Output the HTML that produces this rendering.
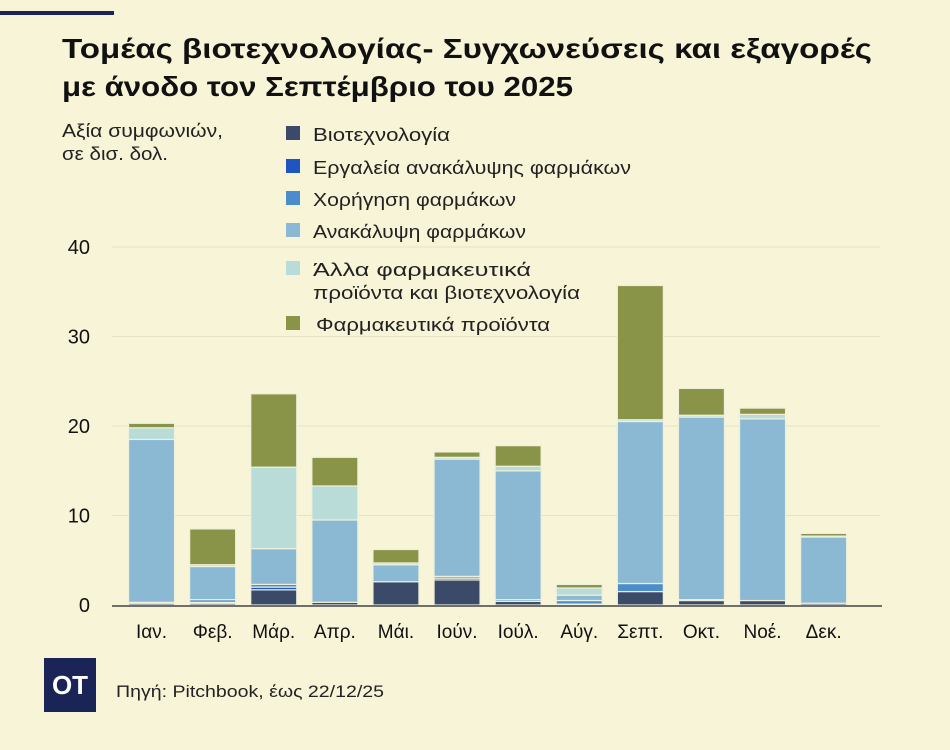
<!DOCTYPE html>
<html><head><meta charset="utf-8"><style>
body{margin:0;background:#f7f4d7;font-family:"Liberation Sans",sans-serif}
svg{display:block}
</style></head><body>
<svg width="950" height="750" id="c">
<rect width="950" height="750" fill="#f7f4d7"/>
<rect x="0" y="11" width="114" height="4" fill="#1b2457"/>
<text x="62" y="58" font-size="28" font-weight="bold" fill="#111" textLength="810" lengthAdjust="spacingAndGlyphs">Τομέας βιοτεχνολογίας- Συγχωνεύσεις και εξαγορές</text>
<text x="62" y="96" font-size="28" font-weight="bold" fill="#111" textLength="511" lengthAdjust="spacingAndGlyphs">με άνοδο τον Σεπτέμβριο του 2025</text>
<text x="62" y="137" font-size="18" fill="#222" textLength="161" lengthAdjust="spacingAndGlyphs">Αξία συμφωνιών,</text>
<text x="62" y="160" font-size="18" fill="#222" textLength="106" lengthAdjust="spacingAndGlyphs">σε δισ. δολ.</text>
<g id="grid"></g><g id="bars"></g><g id="legend"></g>
<rect x="44" y="658" width="52" height="54" fill="#1b2457"/>
<text x="70" y="694" font-size="26" font-weight="bold" fill="#fff" text-anchor="middle">OT</text>
<text x="116" y="697" font-size="17" fill="#222" textLength="268" lengthAdjust="spacingAndGlyphs">Πηγή: Pitchbook, έως 22/12/25</text>
</svg>
<script>
const categories=["Ιαν.","Φεβ.","Μάρ.","Απρ.","Μάι.","Ιούν.","Ιούλ.","Αύγ.","Σεπτ.","Οκτ.","Νοέ.","Δεκ."];
const seriesNames=["Βιοτεχνολογία","Εργαλεία ανακάλυψης φαρμάκων","Χορήγηση φαρμάκων","Ανακάλυψη φαρμάκων","Άλλα φαρμακευτικά προϊόντα και βιοτεχνολογία","Φαρμακευτικά προϊόντα"];
const biotech=[0.2,0.2,1.7,0.3,2.6,2.8,0.4,0.1,1.5,0.5,0.5,0.2];
const tools=[0,0.1,0.3,0,0,0.2,0,0,0,0.1,0,0];
const delivery=[0.1,0.3,0.3,0,0,0.2,0.2,0.4,0.9,0,0,0];
const discovery=[18.2,3.7,4.0,9.2,1.9,13.1,14.4,0.6,18.1,20.4,20.3,7.4];
const otherPharma=[1.3,0.2,9.1,3.8,0.2,0.2,0.5,0.8,0.2,0.2,0.5,0.1];
const pharma=[0.5,4.0,8.2,3.2,1.5,0.6,2.3,0.4,15.0,3.0,0.7,0.3];
const yTicks=[0,10,20,30,40];
const series=[biotech,tools,delivery,discovery,otherPharma,pharma];
const colors=["#3b4a69","#1f55c0","#4a8ccc","#8bb9d4","#b9dcd8","#8a9448"];
const NS="http://www.w3.org/2000/svg";
const y0=605,y40=247,x0=121,step=61.1,bw=46;
const Y=v=>y0-(v/40)*(y0-y40);
const X=i=>x0+step*(i+0.5);
function mk(t,a,p){const e=document.createElementNS(NS,t);for(const k in a)e.setAttribute(k,a[k]);p.appendChild(e);return e;}
const g=document.getElementById('grid');
yTicks.forEach(t=>{
 if(t>0){const l=mk('line',{x1:112,x2:880,y1:Y(t),y2:Y(t),stroke:'#e6e3c4','stroke-width':1},g);
 
 }
 const tx=mk('text',{x:90,y:Y(t)+7,'font-size':20,'text-anchor':'end',fill:'#111'},g);tx.textContent=t;
 
 
});
const b=document.getElementById('bars');
categories.forEach((c,i)=>{
 let acc=0;
 series.forEach((s,k)=>{
  const v=s[i];if(v<=0)return;
  const r=mk('rect',{x:X(i)-bw/2,y:Y(acc+v),width:bw,height:Y(acc)-Y(acc+v),fill:colors[k],stroke:'#eef0dc','stroke-width':1.2},b);
  
  
  acc+=v;
 });
 const t=mk('text',{x:X(i),y:638,'font-size':19,'text-anchor':'middle',fill:'#111'},b);t.textContent=c;
 
 
});
const ax=mk('line',{x1:112,x2:882,y1:y0+1,y2:y0+1,stroke:'#444','stroke-width':1.5},b);


const lg=document.getElementById('legend');
const ly=[135,168,200,232,270,325];
const lw=[137,318,203,213,218,267,234];
seriesNames.forEach((n,k)=>{
 const r=mk('rect',{x:286,y:ly[k]-9,width:14,height:14,fill:colors[k]},lg);
 
 
 if(k===4){
  const t1=mk('text',{x:313,y:ly[k]+6,'font-size':18,fill:'#222',textLength:lw[4],lengthAdjust:'spacingAndGlyphs'},lg);t1.textContent="Άλλα φαρμακευτικά";
  
  
  const t2=mk('text',{x:313,y:ly[k]+29,'font-size':18,fill:'#222',textLength:lw[5],lengthAdjust:'spacingAndGlyphs'},lg);t2.textContent="προϊόντα και βιοτεχνολογία";
  
  
 }else{
  const t=mk('text',{x:k===5?316:313,y:ly[k]+6,'font-size':18,fill:'#222',textLength:lw[k===5?6:k],lengthAdjust:'spacingAndGlyphs'},lg);t.textContent=n;
  
  
 }
});
</script>
</body></html>
